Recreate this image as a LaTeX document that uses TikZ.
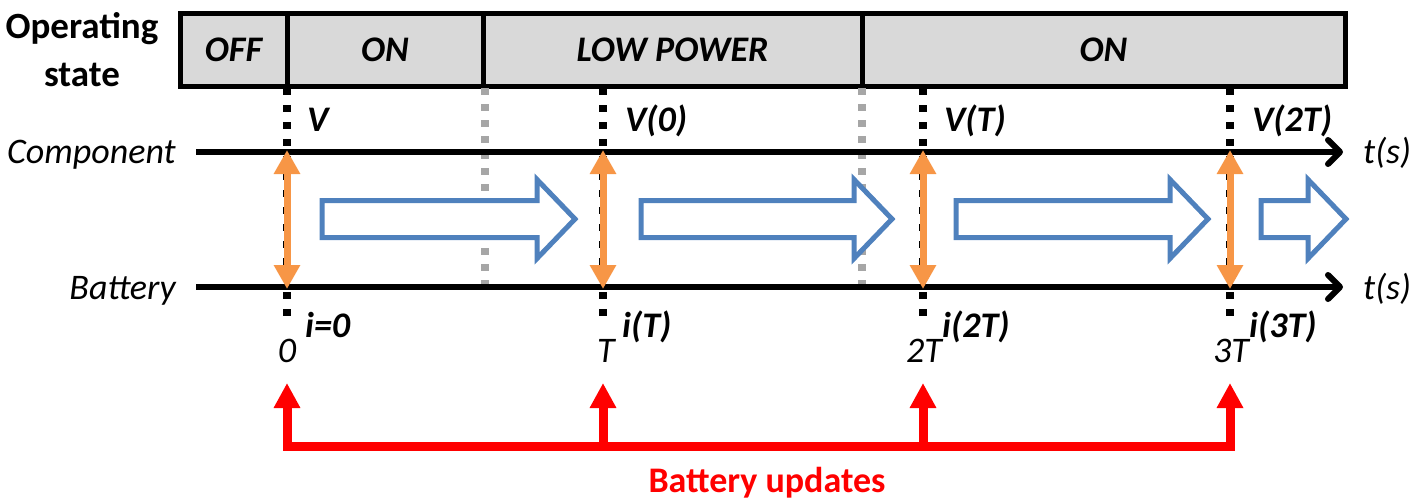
\documentclass[tikz,border=0pt]{standalone}
\usepackage{fontspec}
\setmainfont{Carlito}
\usetikzlibrary{arrows.meta}
\definecolor{boxgray}{HTML}{D9D9D9}
\definecolor{dotgray}{HTML}{A6A6A6}
\definecolor{orng}{HTML}{F79646}
\definecolor{blu}{HTML}{4F81BD}
\definecolor{rd}{HTML}{FF0000}
\newcommand{\blarrow}[3]{% tail x, tip x, name
  \draw[bluearrow] (#1,200.5) -- (#2-38,200.5) -- (#2-38,179.5) -- (#2,219) -- (#2-38,258.5) -- (#2-38,237.5) -- (#1,237.5) -- cycle;
  \coordinate (#3) at (#1,219);}
\begin{document}
\begin{tikzpicture}[x=1pt,y=-1pt,
  font=\fontsize{36}{44}\selectfont,
  cell/.style={draw=black, line width=5pt, fill=boxgray, inner sep=0pt, minimum height=73pt, font=\fontsize{36}{44}\selectfont\bfseries\itshape},
  axisline/.style={line width=6pt, -{Straight Barb[length=12pt,width=24pt,round]}},
  blackdot/.style={line width=8pt, dash pattern=on 7pt off 10pt},
  graydot/.style={line width=8pt, color=dotgray, dash pattern=on 7pt off 9pt},
  orangearrow/.style={draw=orng, line width=7pt, {Triangle[length=24pt,width=25pt]}-{Triangle[length=24pt,width=25pt]}, shorten <=-2pt, shorten >=-2pt},
  bluearrow/.style={draw=blu, line width=5pt, fill=white, line join=miter},
  redarrow/.style={draw=rd, line width=9pt, -{Triangle[length=25pt,width=25pt]}, line join=miter},
  vlab/.style={anchor=base west, inner sep=0pt, font=\fontsize{36}{44}\selectfont\bfseries\itshape},
  tlab/.style={anchor=base, inner sep=0pt, font=\fontsize{36}{44}\selectfont\itshape},
]
\useasboundingbox (0,0) rectangle (1414,499);

% operating state row
\node[align=center, font=\fontsize{37}{48}\selectfont\bfseries, inner sep=0pt] (opstate) at (82,50) {Operating\\state};
\node[cell, minimum width=107pt] (off) at (233.5,49.5) {OFF};
\node[cell, minimum width=196pt] (on1) at (385,49.5) {ON};
\node[cell, minimum width=379pt] (low) at (672.5,49.5) {LOW POWER};
\node[cell, minimum width=483pt] (on2) at (1103.5,49.5) {ON};

% tick coordinates
\foreach \n/\x in {a/287,b/603,c/923,d/1230}{
  \coordinate (top\n) at (\x,88);
  \coordinate (comp\n) at (\x,152);
  \coordinate (batt\n) at (\x,287);
  \coordinate (bot\n) at (\x,320);
  \coordinate (rtip\n) at (\x,383);
  \coordinate (rbase\n) at (\x,446.5);
}
\coordinate (g1t) at (485,88); \coordinate (g1b) at (485,292);
\coordinate (g2t) at (862,88); \coordinate (g2b) at (862,292);

% gray dotted separators
\draw[graydot] (g1t) -- (g1b);
\draw[graydot] (g2t) -- (g2b);

% black dotted ticks
\foreach \n in {a,b,c,d}{
  \draw[blackdot] (top\n) -- (bot\n);
}

% axes
\node[anchor=base east, inner sep=0pt, font=\fontsize{36}{44}\selectfont\itshape] (complab) at (176,163) {Component};
\node[anchor=base east, inner sep=0pt, font=\fontsize{36}{44}\selectfont\itshape] (battlab) at (176,299) {Battery};
\coordinate (cstart) at (196,152); \coordinate (cend) at (1343,152);
\coordinate (bstart) at (196,287); \coordinate (bend) at (1343,287);
\draw[axisline] (cstart) -- (cend);
\draw[axisline] (bstart) -- (bend);
\node[anchor=base west, inner sep=0pt, font=\fontsize{36}{44}\selectfont\itshape] (ts1) at (1363,163) {t(s)};
\node[anchor=base west, inner sep=0pt, font=\fontsize{36}{44}\selectfont\itshape] (ts2) at (1363,299) {t(s)};

% blue arrows
\blarrow{322}{575}{bl1}
\blarrow{641}{892}{bl2}
\blarrow{956}{1208}{bl3}
\blarrow{1261}{1346}{bl4}

% orange double arrows
\foreach \n in {a,b,c,d}{
  \draw[orangearrow] (comp\n) -- (batt\n);
}

% voltage labels
\node[vlab] (v0) at (307,131) {V};
\node[vlab] (v1) at (625,131) {V(0)};
\node[vlab] (v2) at (944,131) {V(T)};
\node[vlab] (v3) at (1252,131) {V(2T)};

% current labels
\node[vlab] (i0) at (305,337) {i=0};
\node[vlab] (i1) at (622,337) {i(T)};
\node[vlab] (i2) at (942,337) {i(2T)};
\node[vlab] (i3) at (1249,337) {i(3T)};

% time labels
\node[tlab] (t0) at (287,362) {0};
\node[tlab] (t1) at (606,362) {T};
\node[tlab] (t2) at (924,362) {2T};
\node[tlab] (t3) at (1231,362) {3T};

% battery updates
\draw[redarrow] (rbasea) -- (rbased) -- (rtipd);
\draw[redarrow] (rbased) -- (rbasea) -- (rtipa);
\draw[redarrow] (rbaseb) -- (rtipb);
\draw[redarrow] (rbasec) -- (rtipc);
\node[anchor=base, inner sep=0pt, text=rd, font=\fontsize{36}{44}\selectfont\bfseries] (upd) at (767,492) {Battery updates};
\end{tikzpicture}
\end{document}
